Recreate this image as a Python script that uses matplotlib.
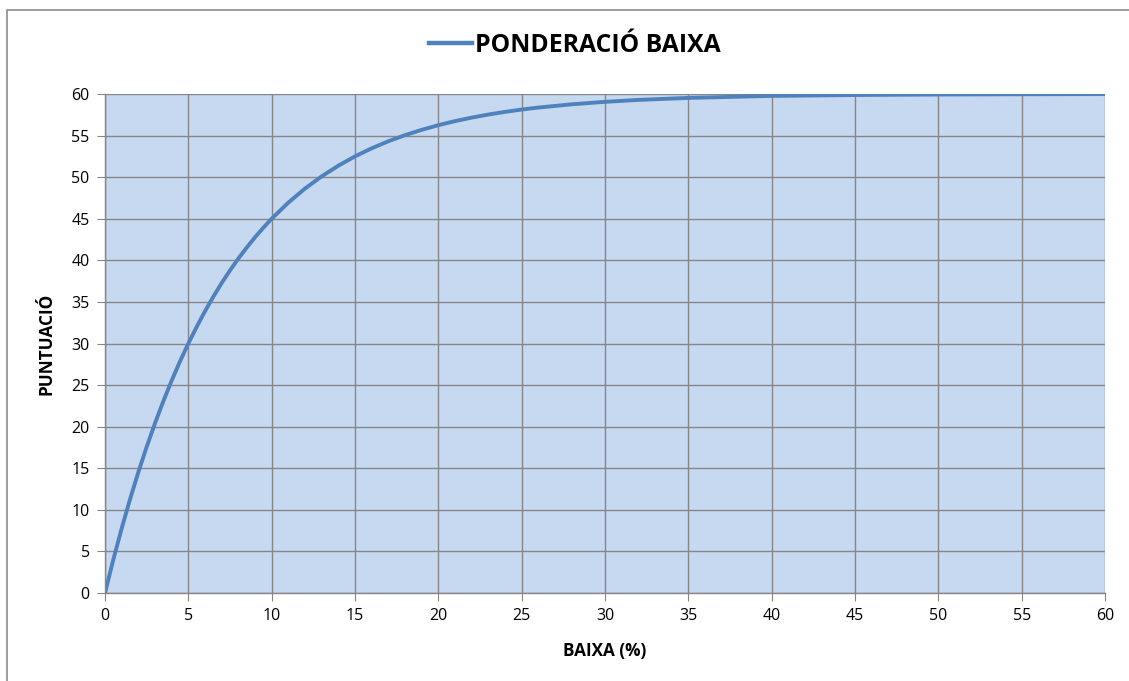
import matplotlib
matplotlib.use('Agg')
import matplotlib.pyplot as plt
from matplotlib.lines import Line2D
from matplotlib.patches import Rectangle

# Values
baixa = [0, 0.5, 1, 1.5, 2, 2.5, 3, 3.5, 4, 4.5, 5, 5.5, 6, 6.5, 7, 7.5, 8, 8.5, 9, 9.5, 10,
         11, 12, 13, 14, 15, 16, 17, 18, 19, 20, 21, 22, 23, 24, 25, 26, 28, 30, 32, 35,
         40, 45, 50, 55, 60]
puntuacio = [0, 4.02, 7.76, 11.26, 14.53, 17.57, 20.41, 23.06, 25.54, 27.85, 30.0, 32.0,
             33.88, 35.63, 37.27, 38.79, 40.21, 41.53, 42.77, 43.92, 45.0,
             46.94, 48.63, 50.10, 51.38, 52.5, 53.47, 54.32, 55.05, 55.69, 56.25, 56.74,
             57.16, 57.53, 57.85, 58.13, 58.37, 58.76, 59.06, 59.29, 59.53,
             59.77, 59.88, 59.94, 59.97, 59.99]
x_ticks = list(range(0, 61, 5))
y_ticks = list(range(0, 61, 5))
series_name = 'PONDERACIÓ BAIXA'

plt.rcParams['font.family'] = ['Open Sans', 'DejaVu Sans']

line_color = '#4F81BD'
grid_color = '#868686'

fig = plt.figure(figsize=(11.29, 6.81), dpi=100)
ax = fig.add_axes([105 / 1129, 1 - 593 / 681, 1000 / 1129, 499 / 681])

# outer chart frame
fig.patches.append(Rectangle((7 / 1129, -0.05), 1.2, 1 - 10 / 681 + 0.05,
                             transform=fig.transFigure, fill=False,
                             edgecolor='#8C8C8C', linewidth=1.2))

ax.set_facecolor('#C6D9F1')
ax.plot(baixa, puntuacio, color=line_color, linewidth=2.8, solid_capstyle='round')

ax.set_xlim(0, 60)
ax.set_ylim(0, 60)
ax.set_xticks(x_ticks)
ax.set_yticks(y_ticks)
ax.grid(True, color=grid_color, linewidth=1)
ax.set_axisbelow(True)
for side in ['top', 'right']:
    ax.spines[side].set_visible(False)
for side in ['left', 'bottom']:
    ax.spines[side].set_color(grid_color)
    ax.spines[side].set_linewidth(1)
ax.tick_params(axis='both', direction='out', length=6, color=grid_color,
               labelsize=11.5, pad=5)

ax.set_xlabel('BAIXA (%)', fontsize=12.3, fontweight='bold', labelpad=13)
ax.set_ylabel('PUNTUACIÓ', fontsize=12.3, fontweight='bold', labelpad=11.5)

handle = Line2D([], [], color=line_color, linewidth=3.2)
fig.legend([handle], [series_name], loc='center', bbox_to_anchor=(0.509, 1 - 45 / 681),
           frameon=False, prop={'size': 17.8, 'weight': 'bold'},
           handlelength=1.75, handletextpad=0.12)

fig.savefig('out.png', dpi=100)
